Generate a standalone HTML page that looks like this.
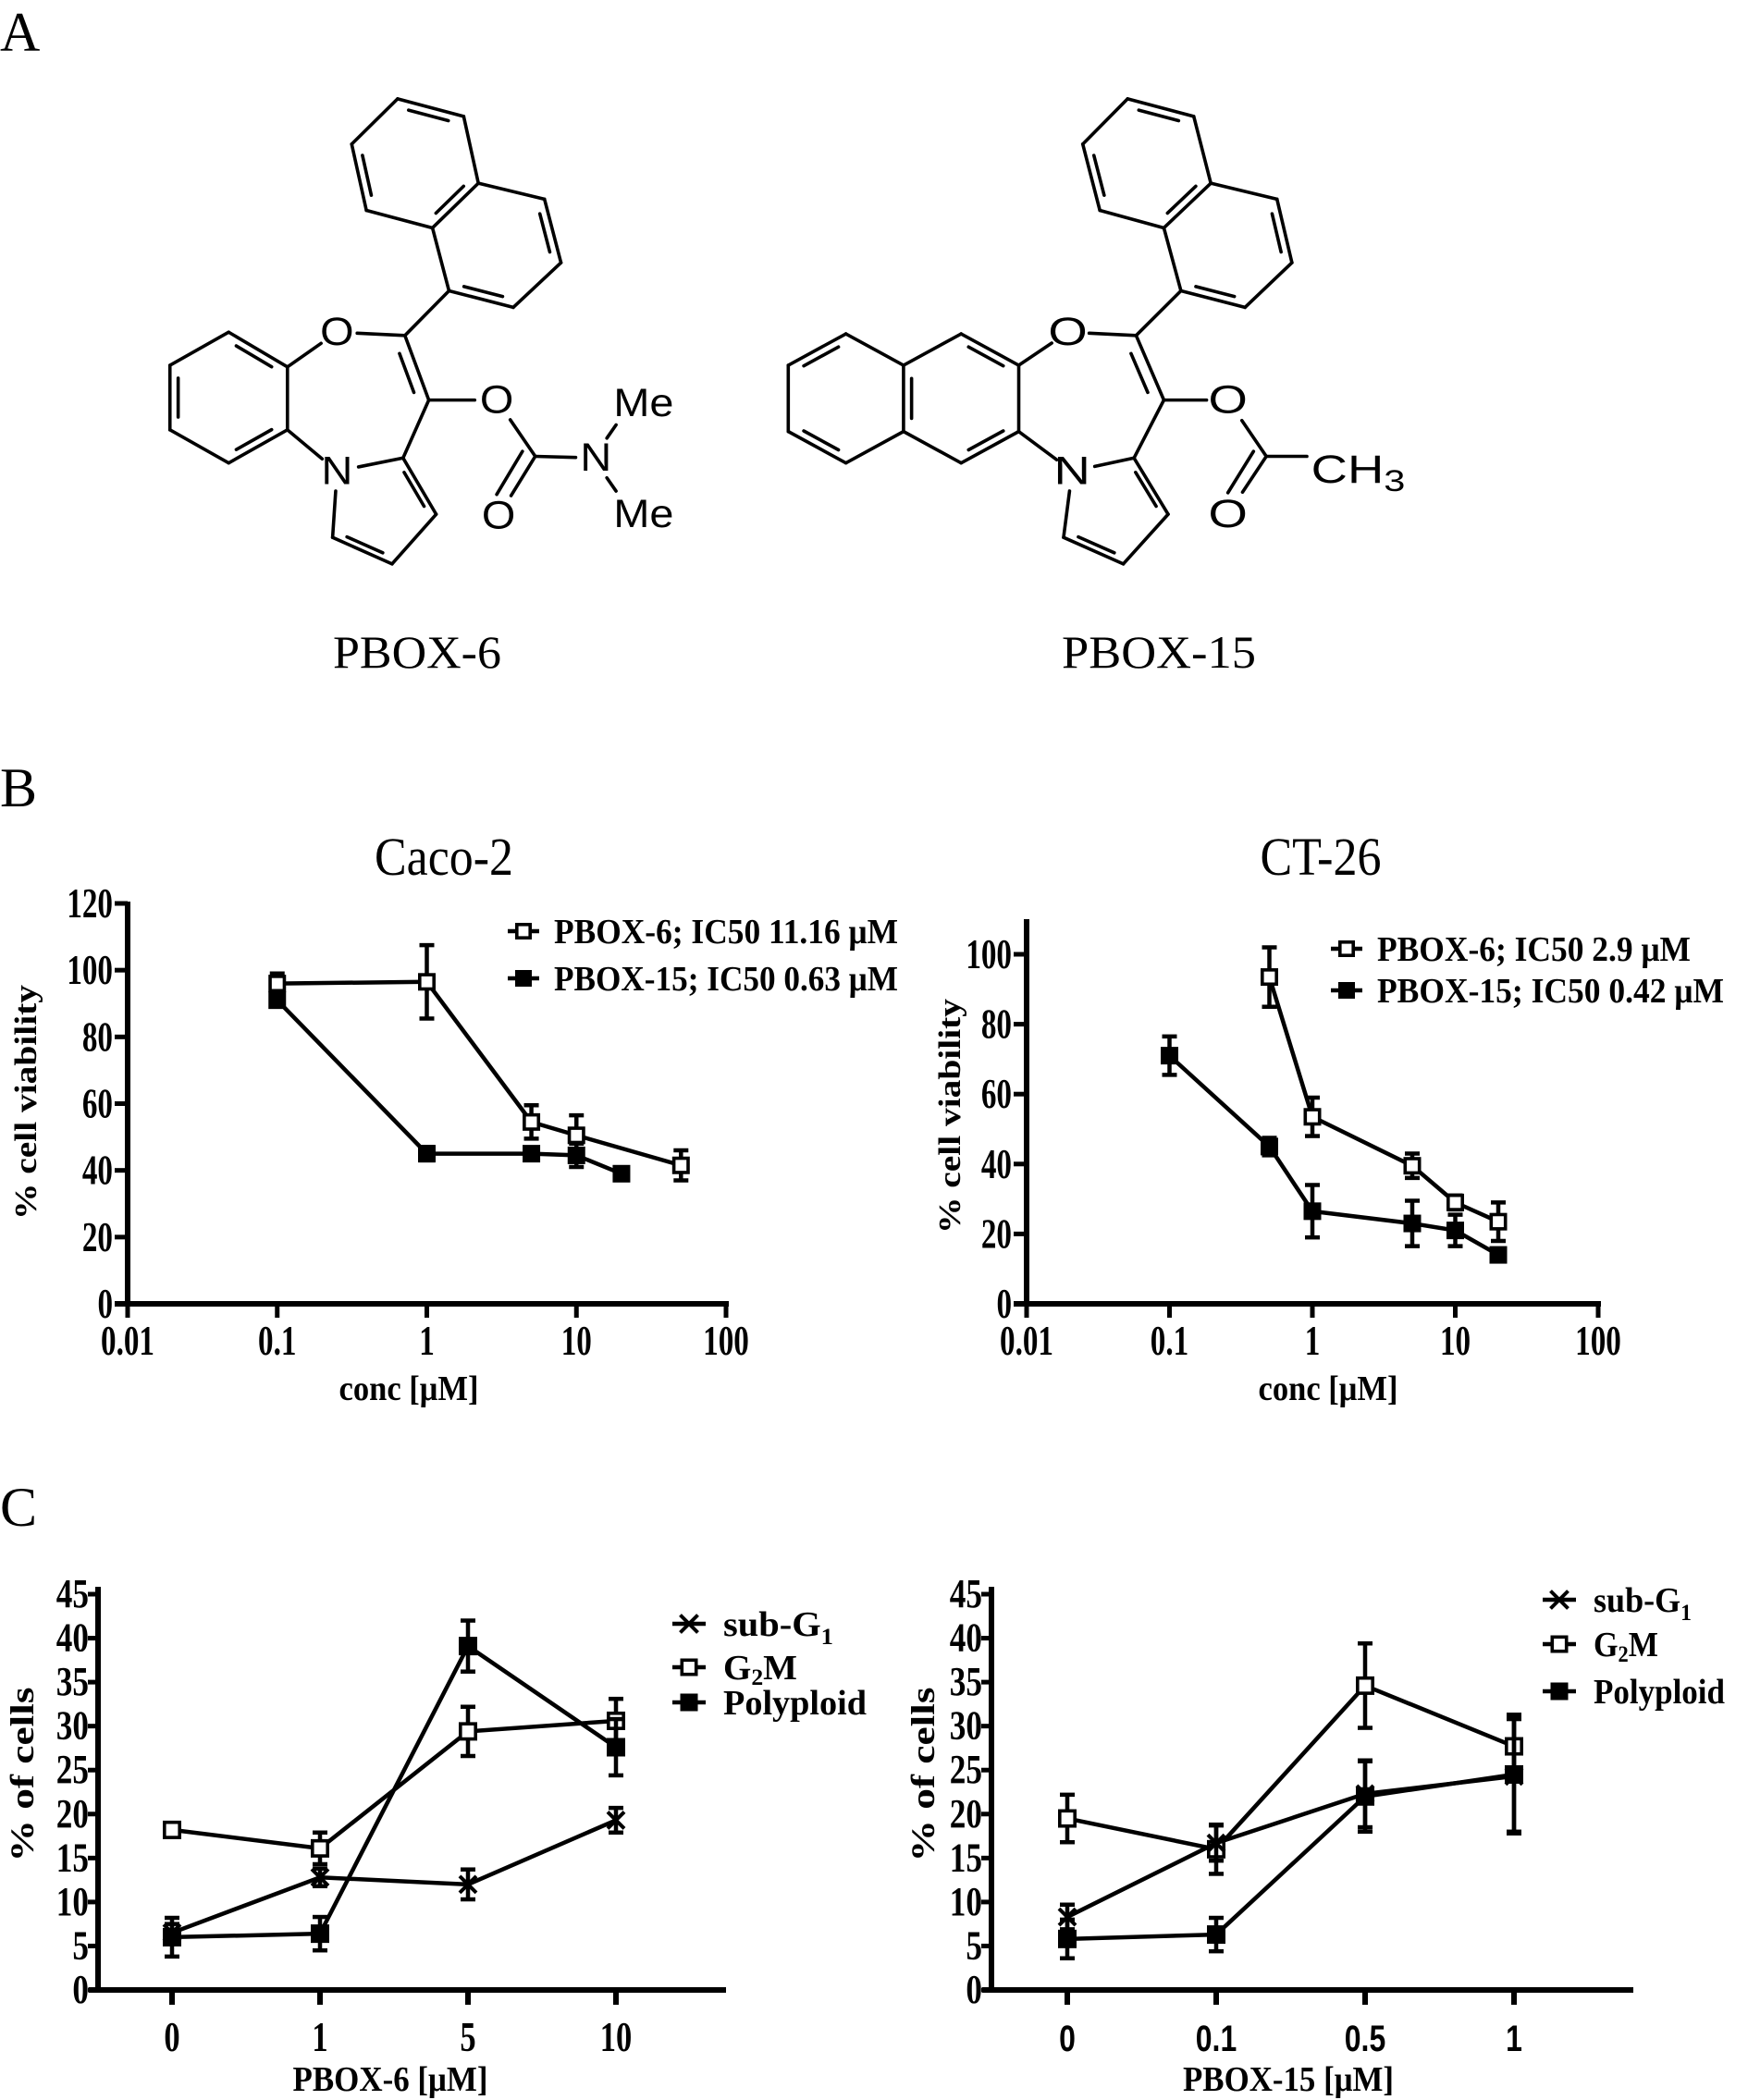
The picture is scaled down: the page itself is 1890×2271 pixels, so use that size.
<!DOCTYPE html>
<html><head><meta charset="utf-8"><title>PBOX figure</title>
<style>
html,body{margin:0;padding:0;background:#fff;}
svg{display:block;}
.serif{font-family:"Liberation Serif",serif;}
.sans{font-family:"Liberation Sans",sans-serif;}
</style></head>
<body>
<svg id="fig" xmlns="http://www.w3.org/2000/svg" width="1890" height="2271" viewBox="0 0 1890 2271">
<rect x="0" y="0" width="1890" height="2271" fill="#fff"/>
<text x="0" y="55" class="serif" font-size="60">A</text>
<text x="0" y="872" class="serif" font-size="60">B</text>
<text x="0" y="1650" class="serif" font-size="60">C</text>
<g id="mol1" transform="translate(150,80) scale(0.397,0.358)"></g>
<g id="mol2" transform="translate(820,80) scale(0.4615,0.358)"></g>
<text x="451" y="722" text-anchor="middle" class="serif" font-size="50" textLength="182" lengthAdjust="spacingAndGlyphs">PBOX-6</text>
<text x="1253" y="722" text-anchor="middle" class="serif" font-size="50" textLength="210" lengthAdjust="spacingAndGlyphs">PBOX-15</text>
<g id="charts"></g>
</svg>
<script>
// ===== Chart data =====
// Caco-2 viability
const cacoConc6 = [0.1, 1, 5, 10, 50];
const cacoVia6 = [96, 96.5, 54.5, 50.5, 41.5];
const cacoErr6 = [3, 11, 5, 6, 4.5];
const cacoConc15 = [0.1, 1, 5, 10, 20];
const cacoVia15 = [91, 45, 45, 44.5, 39];
const cacoErr15 = [0, 2, 1, 3.5, 1.5];
// CT-26 viability
const ctConc6 = [0.5, 1, 5, 10, 20];
const ctVia6 = [93.5, 53.5, 39.5, 29, 23.5];
const ctErr6 = [8.5, 5.5, 3.5, 2, 5.5];
const ctConc15 = [0.1, 0.5, 1, 5, 10, 20];
const ctVia15 = [71, 45, 26.5, 23, 21, 14];
const ctErr15 = [5.5, 2.5, 7.5, 6.5, 4.5, 0];
const logTicks = [0.01, 0.1, 1, 10, 100];
const logTickLabels = ['0.01', '0.1', '1', '10', '100'];
const cacoYTicks = [0, 20, 40, 60, 80, 100, 120];
const ctYTicks = [0, 20, 40, 60, 80, 100];
// Cell-cycle, PBOX-6
const pbox6Cats = ['0', '1', '5', '10'];
const p6SubG1 = [6.5, 12.8, 12, 19.3];
const p6SubG1Err = [1, 1, 1.7, 1.4];
const p6G2M = [18.2, 16.1, 29.4, 30.6];
const p6G2MErr = [0.5, 1.8, 2.8, 2.5];
const p6Poly = [6, 6.4, 39.1, 27.6];
const p6PolyErr = [2.2, 1.9, 2.9, 3.2];
// Cell-cycle, PBOX-15
const pbox15Cats = ['0', '0.1', '0.5', '1'];
const p15SubG1 = [8.3, 16.7, 22.3, 24.3];
const p15SubG1Err = [1.4, 2, 3.8, 6.5];
const p15G2M = [19.5, 16, 34.6, 27.7];
const p15G2MErr = [2.7, 2.8, 4.8, 3.6];
const p15Poly = [5.8, 6.3, 22, 24.5];
const p15PolyErr = [2.2, 1.9, 4, 6.5];
const cYTicks = [0, 5, 10, 15, 20, 25, 30, 35, 40, 45];

const NS = 'http://www.w3.org/2000/svg';
function el(tag, parent) { const e = document.createElementNS(NS, tag); parent.appendChild(e); return e; }
function at(e, o) { for (const k in o) e.setAttribute(k, o[k]); return e; }

// ===== Molecules =====
function bond(g, a, b, s0, s1) {
  const dx = b[0]-a[0], dy = b[1]-a[1], L = Math.hypot(dx, dy);
  const u = [dx/L, dy/L]; s0 = s0||0; s1 = s1||0;
  const l = el('line', g);
  at(l, {x1:a[0]+u[0]*s0, y1:a[1]+u[1]*s0, x2:b[0]-u[0]*s1, y2:b[1]-u[1]*s1, stroke:'#000', 'stroke-width':3.6, 'vector-effect':'non-scaling-stroke', 'stroke-linecap':'round'});
}
function inner(g, a, b, c) {
  const f = 0.14, t = 0.15;
  const a2 = [a[0]+(c[0]-a[0])*f, a[1]+(c[1]-a[1])*f], b2 = [b[0]+(c[0]-b[0])*f, b[1]+(c[1]-b[1])*f];
  const p = [a2[0]+(b2[0]-a2[0])*t, a2[1]+(b2[1]-a2[1])*t], q = [b2[0]+(a2[0]-b2[0])*t, b2[1]+(a2[1]-b2[1])*t];
  bond(g, p, q);
}
function ring(g, pts, dbl) {
  const c = [0,0]; pts.forEach(p => { c[0]+=p[0]/pts.length; c[1]+=p[1]/pts.length; });
  for (let i=0;i<pts.length;i++) bond(g, pts[i], pts[(i+1)%pts.length]);
  dbl.forEach(i => inner(g, pts[i], pts[(i+1)%pts.length], c));
  return c;
}
function atom(g, x, y, s, fs) {
  const t = el('text', g);
  at(t, {x:x, y:y, 'text-anchor':'middle', 'dominant-baseline':'central', 'font-family':'"Liberation Sans",sans-serif', 'font-size':fs||118});
  t.textContent = s; return t;
}
(function(){
  const g = document.getElementById('mol1');
  const A = [[705,75],[885,128],[925,330],[800,465],[620,412],[580,212]];
  ring(g, A, [0,2,4]);
  const B = [[925,330],[1105,378],[1150,570],[1020,705],[845,655],[800,465]];
  const cB=[0,0]; B.forEach(p=>{cB[0]+=p[0]/6;cB[1]+=p[1]/6;});
  for (let i=0;i<5;i++) bond(g, B[i], B[i+1]);
  inner(g,B[1],B[2],cB); inner(g,B[3],B[4],cB);
  const Bz = [[245,780],[405,885],[405,1075],[245,1175],[85,1075],[85,880]];
  ring(g, Bz, [0,2,4]);
  const O=[540,780], C2=[725,790], C3=[790,985], C3a=[720,1160], N=[540,1200], P1=[528,1400], P2=[690,1480], P3=[810,1330];
  bond(g, B[4], C2);
  bond(g, Bz[1], O, 0, 55); bond(g, O, C2, 55, 0);
  bond(g, C2, C3); inner(g, C2, C3, [560,1000]);
  bond(g, C3, C3a);
  bond(g, Bz[2], N, 0, 55); bond(g, N, C3a, 60, 0); bond(g, N, P1, 60, 0);
  bond(g, P1, P2); bond(g, P2, P3); bond(g, P3, C3a);
  const cp=[658,1314]; inner(g,P1,P2,cp); inner(g,C3a,P3,cp);
  atom(g, O[0], O[1], 'O'); atom(g, N[0], N[1], 'N');
  const Oe=[975,985], Cc=[1080,1155], Oc=[980,1335], Nm=[1245,1160];
  bond(g, C3, Oe, 0, 60); bond(g, Oe, Cc, 70, 0);
  bond(g, Cc, Oc, 0, 70);
  bond(g, [1045,1140], [975,1270]);
  bond(g, Cc, Nm, 0, 55);
  atom(g, Oe[0], Oe[1], 'O'); atom(g, Oc[0], Oc[1], 'O'); atom(g, Nm[0], Nm[1], 'N');
  bond(g, [1275,1100], [1300,1060]); bond(g, [1275,1220], [1300,1260]);
  atom(g, 1375, 995, 'Me'); atom(g, 1375, 1330, 'Me');
})();
(function(){
  const g = document.getElementById('mol2');
  const A = [[865,75],[1020,128],[1060,330],[950,465],[800,412],[760,212]];
  ring(g, A, [0,2,4]);
  const B = [[1060,330],[1215,378],[1250,570],[1140,705],[990,655],[950,465]];
  const cB=[0,0]; B.forEach(p=>{cB[0]+=p[0]/6;cB[1]+=p[1]/6;});
  for (let i=0;i<5;i++) bond(g, B[i], B[i+1]);
  inner(g,B[1],B[2],cB); inner(g,B[3],B[4],cB);
  const R = [[475,785],[610,880],[610,1080],[475,1175],[340,1080],[340,880]];
  ring(g, R, [0,2,4]);
  const L = [[205,785],[340,880],[340,1080],[205,1175],[70,1080],[70,880]];
  const cL=[0,0]; L.forEach(p=>{cL[0]+=p[0]/6;cL[1]+=p[1]/6;});
  bond(g,L[0],L[1]); bond(g,L[2],L[3]); bond(g,L[3],L[4]); bond(g,L[4],L[5]); bond(g,L[5],L[0]);
  inner(g,L[3],L[4],cL); inner(g,L[5],L[0],cL);
  const O=[725,780], C2=[885,790], C3=[950,985], C3a=[880,1160], N=[735,1200], P1=[715,1400], P2=[855,1480], P3=[960,1330];
  bond(g, B[4], C2);
  bond(g, R[1], O, 0, 50); bond(g, O, C2, 50, 0);
  bond(g, C2, C3); inner(g, C2, C3, [740,1000]);
  bond(g, C3, C3a);
  bond(g, R[2], N, 0, 50); bond(g, N, C3a, 55, 0); bond(g, N, P1, 60, 0);
  bond(g, P1, P2); bond(g, P2, P3); bond(g, P3, C3a);
  const cp=[833,1314]; inner(g,P1,P2,cp); inner(g,C3a,P3,cp);
  atom(g, O[0], O[1], 'O'); atom(g, N[0], N[1], 'N');
  const Oe=[1100,985], Cc=[1190,1155], Oc=[1100,1330];
  bond(g, C3, Oe, 0, 50); bond(g, Oe, Cc, 70, 0);
  bond(g, Cc, Oc, 0, 75); bond(g, [1160,1140], [1100,1265]);
  bond(g, Cc, [1285,1155]);
  atom(g, Oe[0], Oe[1], 'O'); atom(g, Oc[0], Oc[1], 'O');
  const t = el('text', g);
  at(t, {x:1295, y:1235, 'font-family':'"Liberation Sans",sans-serif', 'font-size':118});
  t.innerHTML = 'CH<tspan font-size="90" dy="25">3</tspan>';
})();

// ===== Charts =====
const root = document.getElementById('charts');
function txt(parent, x, y, s, o) {
  const t = el('text', parent);
  at(t, Object.assign({x:x, y:y, 'font-family':'"Liberation Serif",serif', 'font-weight':'bold'}, o||{}));
  t.textContent = s; return t;
}
function cond(t, f) {
  const w = t.getComputedTextLength();
  if (w > 0) { t.setAttribute('textLength', w * f); t.setAttribute('lengthAdjust', 'spacingAndGlyphs'); }
}
function ln(parent, x1, y1, x2, y2, w) {
  const l = el('line', parent);
  at(l, {x1:x1, y1:y1, x2:x2, y2:y2, stroke:'#000', 'stroke-width':w});
  return l;
}
function marker(parent, type, x, y, s) {
  if (type === 'x') {
    const g = el('g', parent);
    ln(g, x-s/2, y-s/2, x+s/2, y+s/2, 4); ln(g, x-s/2, y+s/2, x+s/2, y-s/2, 4);
    return g;
  }
  const r = el('rect', parent);
  if (type === 'open') at(r, {x:x-s/2+1.8, y:y-s/2+1.8, width:s-3.6, height:s-3.6, fill:'#fff', stroke:'#000', 'stroke-width':3.6});
  else at(r, {x:x-s/2, y:y-s/2, width:s, height:s, fill:'#000'});
  return r;
}
function series(parent, name, xs, ys, errs, sx, sy, type, ms) {
  const g = el('g', parent);
  
  
  const pts = xs.map((v, i) => [sx(v), sy(ys[i])]);
  const pl = el('polyline', g);
  at(pl, {points: pts.map(p => p.join(',')).join(' '), fill:'none', stroke:'#000', 'stroke-width':4.5, 'stroke-linejoin':'round'});
  
  
  xs.forEach((v, i) => {
    if (errs[i] > 0) {
      const eb = el('g', g);
      
      
      const x = sx(v), y1 = sy(ys[i]+errs[i]), y2 = sy(ys[i]-errs[i]);
      ln(eb, x, y1, x, y2, 4.5); ln(eb, x-8, y1, x+8, y1, 4.5); ln(eb, x-8, y2, x+8, y2, 4.5);
    }
  });
  xs.forEach((v, i) => {
    const m = marker(g, type, sx(v), sy(ys[i]), ms);
    
    
  });
}

function drawViability(cfg) {
  const g = el('g', root);
  
  
  const sx = v => cfg.x0 + (Math.log10(v) + 2) * cfg.dec;
  const sy = v => cfg.y0 - v * cfg.py;
  const t = txt(g, cfg.titleX, 946, cfg.title, {'text-anchor':'middle', 'font-weight':'normal', 'font-size':58, textLength:cfg.titleW, lengthAdjust:'spacingAndGlyphs'});
  
  
  const ax = el('g', g);
  
  
  ln(ax, cfg.x0, cfg.yTop, cfg.x0, cfg.y0 + 3, 6);
  ln(ax, cfg.x0 - 14, cfg.y0, sx(100) + 3, cfg.y0, 6);
  cfg.yTicks.forEach(v => {
    ln(ax, cfg.x0 - 14, sy(v), cfg.x0, sy(v), 5);
    const l = txt(ax, cfg.x0 - 16, sy(v) + 15, String(v), {'text-anchor':'end', 'font-size':46});
    cond(l, 0.72);
    
    
  });
  logTicks.forEach((v, i) => {
    ln(ax, sx(v), cfg.y0, sx(v), cfg.y0 + 15, 5);
    const l = txt(ax, sx(v), 1465, logTickLabels[i], {'text-anchor':'middle', 'font-size':46});
    cond(l, 0.72);
    
    
  });
  const xt = txt(g, cfg.xtX, 1514, 'conc [\u03bcM]', {'text-anchor':'middle', 'font-size':38, textLength:151, lengthAdjust:'spacingAndGlyphs'});
  
  
  const yt = txt(g, 0, 0, '% cell viability', {'text-anchor':'middle', 'font-size':34, textLength:254, lengthAdjust:'spacingAndGlyphs', transform:'translate(' + cfg.ytX + ',' + cfg.ytY + ') rotate(-90)'});
  
  
  series(g, 'series-pbox6', cfg.s6[0], cfg.s6[1], cfg.s6[2], sx, sy, 'open', 19);
  series(g, 'series-pbox15', cfg.s15[0], cfg.s15[1], cfg.s15[2], sx, sy, 'filled', 19);
  cfg.legend.forEach((lg, i) => {
    const e = el('g', g);
    
    
    const y = cfg.legY[i];
    ln(e, cfg.legX - 17, y, cfg.legX + 17, y, 4.5);
    marker(e, lg.type, cfg.legX, y, 18);
    txt(e, cfg.legX + 33, y + 13, lg.text, {'font-size':38, textLength:lg.w, lengthAdjust:'spacingAndGlyphs'});
  });
}
drawViability({name:'caco2-chart', title:'Caco-2', titleX:480, titleW:150, x0:138, dec:161.75, y0:1410, py:433/120, yTop:975,
  yTicks:cacoYTicks, xtX:442, ytX:39, ytY:1192,
  s6:[cacoConc6, cacoVia6, cacoErr6], s15:[cacoConc15, cacoVia15, cacoErr15],
  legX:566, legY:[1007, 1058],
  legend:[{type:'open', text:'PBOX-6; IC50 11.16 \u03bcM', w:372}, {type:'filled', text:'PBOX-15; IC50 0.63 \u03bcM', w:372}]});
drawViability({name:'ct26-chart', title:'CT-26', titleX:1428, titleW:131, x0:1110, dec:154.5, y0:1410, py:3.78, yTop:994,
  yTicks:ctYTicks, xtX:1436, ytX:1038, ytY:1207,
  s6:[ctConc6, ctVia6, ctErr6], s15:[ctConc15, ctVia15, ctErr15],
  legX:1456, legY:[1026, 1071],
  legend:[{type:'open', text:'PBOX-6; IC50 2.9 \u03bcM', w:339}, {type:'filled', text:'PBOX-15; IC50 0.42 \u03bcM', w:375}]});

function drawCycle(cfg) {
  const g = el('g', root);
  
  
  const sx = i => cfg.c0 + i * cfg.cw;
  const sy = v => 2152 - v * (428 / 45);
  const ax = el('g', g);
  
  
  ln(ax, cfg.x0, 1716, cfg.x0, 2155, 6);
  ln(ax, cfg.x0 - 10, 2152, cfg.xEnd, 2152, 6);
  cYTicks.forEach(v => {
    ln(ax, cfg.x0 - 11, sy(v), cfg.x0, sy(v), 5);
    const l = txt(ax, cfg.x0 - 10, sy(v) + 14, String(v), {'text-anchor':'end', 'font-size':44});
    cond(l, 0.8);
    
    
  });
  cfg.cats.forEach((c, i) => {
    ln(ax, sx(i), 2152, sx(i), 2168, 6);
    const o = {'text-anchor':'middle', 'font-size':cfg.sansX ? 40 : 46};
    if (cfg.sansX) o['font-family'] = '"Liberation Sans",sans-serif';
    const l = txt(ax, sx(i), 2218, c, o);
    cond(l, cfg.sansX ? 0.8 : 0.75);
    
    
  });
  const xt = txt(g, cfg.xtX, 2261, cfg.xTitle, {'text-anchor':'middle', 'font-size':38, textLength:cfg.xtW, lengthAdjust:'spacingAndGlyphs'});
  
  
  const yt = txt(g, 0, 0, '% of cells', {'text-anchor':'middle', 'font-size':36, textLength:189, lengthAdjust:'spacingAndGlyphs', transform:'translate(' + cfg.ytX + ',1919) rotate(-90)'});
  
  
  const idx = cfg.cats.map((c, i) => i);
  series(g, 'series-g2m', idx, cfg.g2m[0], cfg.g2m[1], sx, sy, 'open', 20);
  series(g, 'series-polyploid', idx, cfg.poly[0], cfg.poly[1], sx, sy, 'filled', 20);
  series(g, 'series-sub-g1', idx, cfg.sub[0], cfg.sub[1], sx, sy, 'x', 18);
  const labels = [['x', cfg.lw[0]], ['open', cfg.lw[1]], ['filled', cfg.lw[2]]];
  labels.forEach((lb, i) => {
    const e = el('g', g);
    
    
    const y = cfg.legY[i];
    ln(e, cfg.legX - 18, y, cfg.legX + 18, y, 4.5);
    marker(e, lb[0], cfg.legX, y, 19);
    const t = txt(e, cfg.legX + 37, y + 13, '', {'font-size':38, textLength:lb[1], lengthAdjust:'spacingAndGlyphs'});
    if (i === 0) t.innerHTML = 'sub-G<tspan font-size="25" dy="9">1</tspan>';
    else if (i === 1) t.innerHTML = 'G<tspan font-size="25" dy="6">2</tspan><tspan dy="-6">M</tspan>';
    else t.textContent = 'Polyploid';
  });
}
drawCycle({name:'pbox6-cell-cycle-chart', x0:106, xEnd:785, c0:186, cw:160, cats:pbox6Cats,
  sub:[p6SubG1, p6SubG1Err], g2m:[p6G2M, p6G2MErr], poly:[p6Poly, p6PolyErr],
  xTitle:'PBOX-6 [\u03bcM]', xtX:422, xtW:211, ytX:36, sansX:false,
  legX:745, legY:[1756, 1803, 1841], lw:[119, 80, 155]});
drawCycle({name:'pbox15-cell-cycle-chart', x0:1072, xEnd:1766, c0:1154, cw:161, cats:pbox15Cats,
  sub:[p15SubG1, p15SubG1Err], g2m:[p15G2M, p15G2MErr], poly:[p15Poly, p15PolyErr],
  xTitle:'PBOX-15 [\u03bcM]', xtX:1393, xtW:228, ytX:1010, sansX:true,
  legX:1686, legY:[1730, 1778, 1829], lw:[106, 70, 142]});
</script>
</body></html>
